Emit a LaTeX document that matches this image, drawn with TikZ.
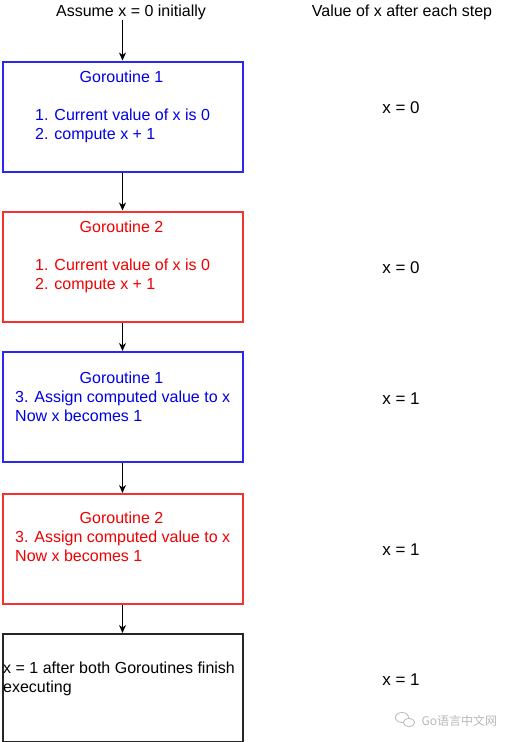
\documentclass[tikz,border=0pt]{standalone}
\usepackage{fontspec}
\setmainfont{Liberation Sans}
\newfontfamily\cjkfont{Noto Sans CJK SC}
\usetikzlibrary{arrows.meta}
\definecolor{gblue}{RGB}{0,0,230}
\definecolor{gblueb}{RGB}{40,40,240}
\definecolor{gred}{RGB}{240,0,0}
\definecolor{gredb}{RGB}{245,50,50}
\definecolor{wm}{RGB}{185,185,185}
\tikzset{
  box/.style={draw, line width=2pt, minimum width=240pt, minimum height=110pt, inner sep=0pt, anchor=north west},
  bluebox/.style={box, draw=gblueb},
  redbox/.style={box, draw=gredb},
  blackbox/.style={box, draw=black!85},
  txt/.style={inner sep=0pt, font=\fontsize{16pt}{19pt}\selectfont},
  title/.style={txt, anchor=base},
  valtxt/.style={inner sep=0pt, anchor=base, font=\fontsize{17pt}{20pt}\selectfont},
  ln/.style={txt, anchor=base west},
  conn/.style={-{Stealth[length=8pt,width=7pt,inset=2.5pt]}, line width=1pt}
}
\begin{document}
\begin{tikzpicture}[x=1pt,y=-1pt]
\useasboundingbox[fill=white] (0,0) rectangle (512,742);
% headers
\node[title] (assume) at (131,16.5) {Assume x = 0 initially};
\node[title] (valhead) at (402,16.5) {Value of x after each step};
% boxes
\node[bluebox] (b1) at (1.5,60.5) {};
\node[redbox] (b2) at (1.5,210.5) {};
\node[bluebox] (b3) at (1.5,351) {};
\node[redbox] (b4) at (1.5,493) {};
\node[blackbox, minimum height=108pt] (b5) at (1.5,633) {};
% box 1
\node[title, text=gblue] (t1) at (121.5,82) {Goroutine 1};
\node[ln, text=gblue] (t1a) at (35,120) {1. Current value of x is 0};
\node[ln, text=gblue] (t1b) at (35,139) {2. compute x + 1};
% box 2
\node[title, text=gred] (t2) at (121.5,232) {Goroutine 2};
\node[ln, text=gred] (t2a) at (35,270) {1. Current value of x is 0};
\node[ln, text=gred] (t2b) at (35,289) {2. compute x + 1};
% box 3
\node[title, text=gblue] (t3) at (121.5,383) {Goroutine 1};
\node[ln, text=gblue] (t3a) at (15,402) {3. Assign computed value to x};
\node[ln, text=gblue] (t3b) at (15,421) {Now x becomes 1};
% box 4
\node[title, text=gred] (t4) at (121.5,523) {Goroutine 2};
\node[ln, text=gred] (t4a) at (15,542) {3. Assign computed value to x};
\node[ln, text=gred] (t4b) at (15,561) {Now x becomes 1};
% box 5
\node[ln] (t5a) at (3,673) {x = 1 after both Goroutines finish};
\node[ln] (t5b) at (3,692) {executing};
% values
\node[valtxt] (v1) at (401,113.3) {x = 0};
\node[valtxt] (v2) at (401,273) {x = 0};
\node[valtxt] (v3) at (401,404) {x = 1};
\node[valtxt] (v4) at (401,555) {x = 1};
\node[valtxt] (v5) at (401,685) {x = 1};
% connectors
\draw[conn] (assume.south -| b1.north) -- (b1.north);
\draw[conn] (b1.south) -- (b2.north);
\draw[conn] (b2.south) -- (b3.north);
\draw[conn] (b3.south) -- (b4.north);
\draw[conn] (b4.south) -- (b5.north);
% watermark
\draw[wm, line width=0.8pt] (402,717.5) ellipse (6.5pt and 5pt);
\draw[wm, line width=0.8pt, fill=white] (409,722.5) ellipse (5.5pt and 4.3pt);
\node[inner sep=0pt, anchor=base west, text=wm, font=\cjkfont\fontsize{12pt}{14pt}\selectfont] (wmtext) at (421.5,725) {Go语言中文网};
\end{tikzpicture}
\end{document}
